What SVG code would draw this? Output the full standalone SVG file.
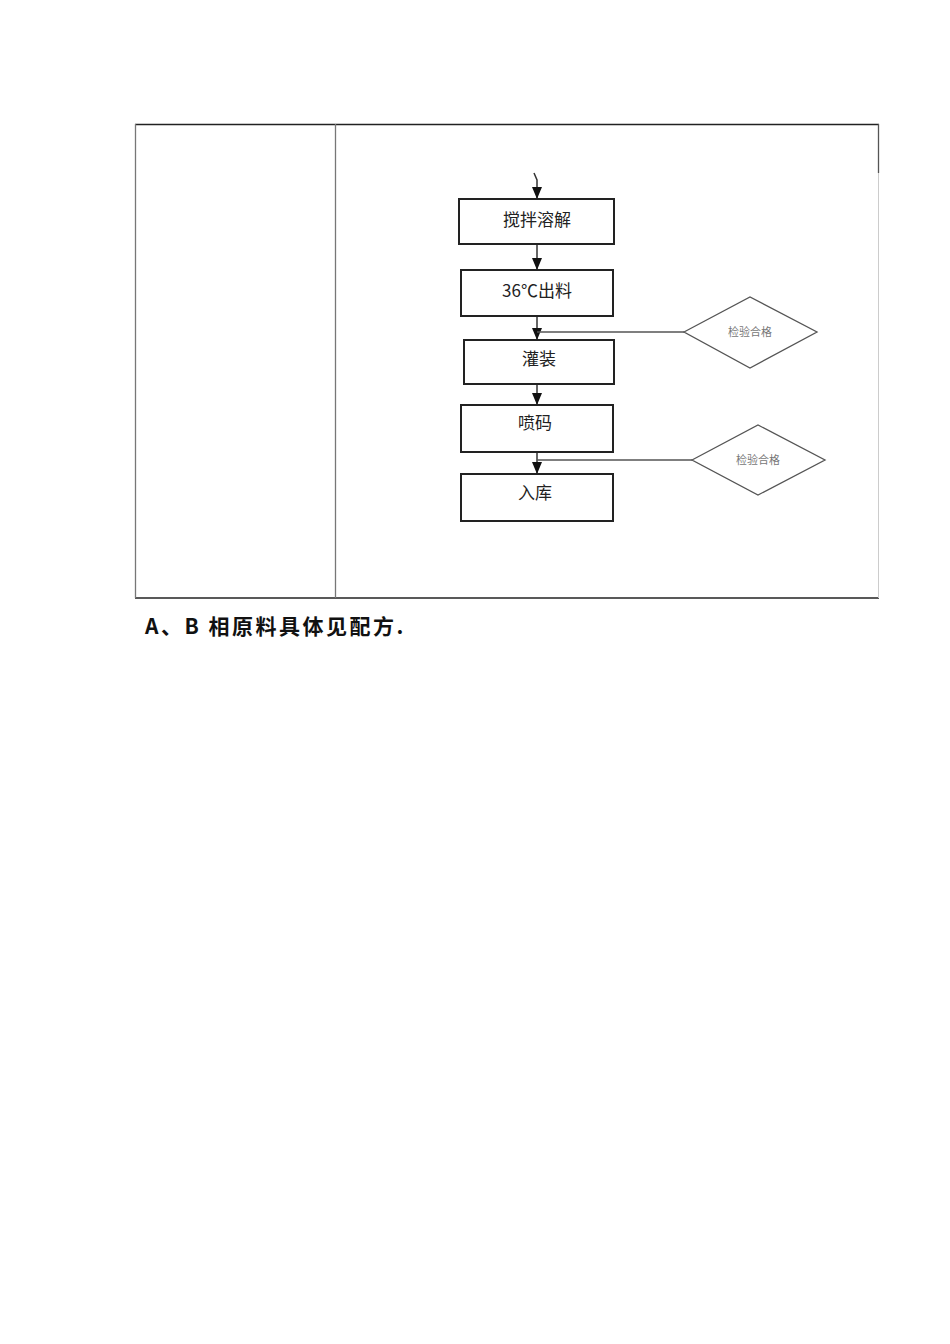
<svg xmlns="http://www.w3.org/2000/svg" width="950" height="1344" viewBox="0 0 950 1344">
<style>
.b{fill:#fff;stroke:#222;stroke-width:2}
.d{fill:#fff;stroke:#555;stroke-width:1.3}
.t{font-family:"Noto Sans CJK SC","Liberation Sans",sans-serif;font-size:17px;fill:#222;text-anchor:middle}
.s{font-family:"Noto Sans CJK SC","Liberation Sans",sans-serif;font-size:11px;fill:#777;text-anchor:middle}
.c{stroke:#333;stroke-width:1.5;fill:none}
</style>
<defs><marker id="a" markerWidth="12" markerHeight="10" refX="12" refY="5" orient="auto" markerUnits="userSpaceOnUse" viewBox="0 0 12 10"><path d="M0,0L12,5L0,10z" fill="#111"/></marker></defs>
<g id="table" fill="none">
<line x1="135" y1="124.5" x2="879" y2="124.5" stroke="#222" stroke-width="1.3"/>
<line x1="135" y1="598" x2="879" y2="598" stroke="#222" stroke-width="1.3"/>
<line x1="135.5" y1="124" x2="135.5" y2="598" stroke="#777" stroke-width="1.3"/>
<line x1="335.5" y1="124" x2="335.5" y2="598" stroke="#777" stroke-width="1.3"/>
<line x1="878.5" y1="124" x2="878.5" y2="173" stroke="#555" stroke-width="1.3"/>
<line x1="878.5" y1="173" x2="878.5" y2="598" stroke="#ccc" stroke-width="1"/>
</g>
<g id="connectors">
<path class="c" d="M534,173 L537,180 L537,199" marker-end="url(#a)"/>
<line class="c" x1="537" y1="244" x2="537" y2="270" marker-end="url(#a)"/>
<line class="c" x1="537" y1="316" x2="537" y2="340" marker-end="url(#a)"/>
<line class="c" x1="537" y1="384" x2="537" y2="405" marker-end="url(#a)"/>
<line class="c" x1="537" y1="452" x2="537" y2="474" marker-end="url(#a)"/>
<line x1="537" y1="332" x2="684" y2="332" stroke="#555" stroke-width="1.3"/>
<line x1="537" y1="460" x2="692" y2="460" stroke="#555" stroke-width="1.3"/>
</g>
<g id="n1"><rect class="b" x="459" y="199" width="155" height="45"/><text class="t" x="537" y="226">搅拌溶解</text></g>
<g id="n2"><rect class="b" x="461" y="270" width="152" height="46"/><text class="t" x="537" y="297">36℃出料</text></g>
<g id="n3"><rect class="b" x="464" y="340" width="150" height="44"/><text class="t" x="539" y="365">灌装</text></g>
<g id="n4"><rect class="b" x="461" y="405" width="152" height="47"/><text class="t" x="535" y="429">喷码</text></g>
<g id="n5"><rect class="b" x="461" y="474" width="152" height="47"/><text class="t" x="535" y="499">入库</text></g>
<g id="d1"><polygon class="d" points="684,332 750,297 817,332 750,368"/><text class="s" x="750" y="336">检验合格</text></g>
<g id="d2"><polygon class="d" points="692,460 758,425 825,460 758,495"/><text class="s" x="758" y="464">检验合格</text></g>
<text x="145" y="634" font-family="'Noto Sans CJK SC','Liberation Sans',sans-serif" font-size="21" font-weight="bold" fill="#111" letter-spacing="2.5">A、B 相原料具体见配方.</text>
</svg>
